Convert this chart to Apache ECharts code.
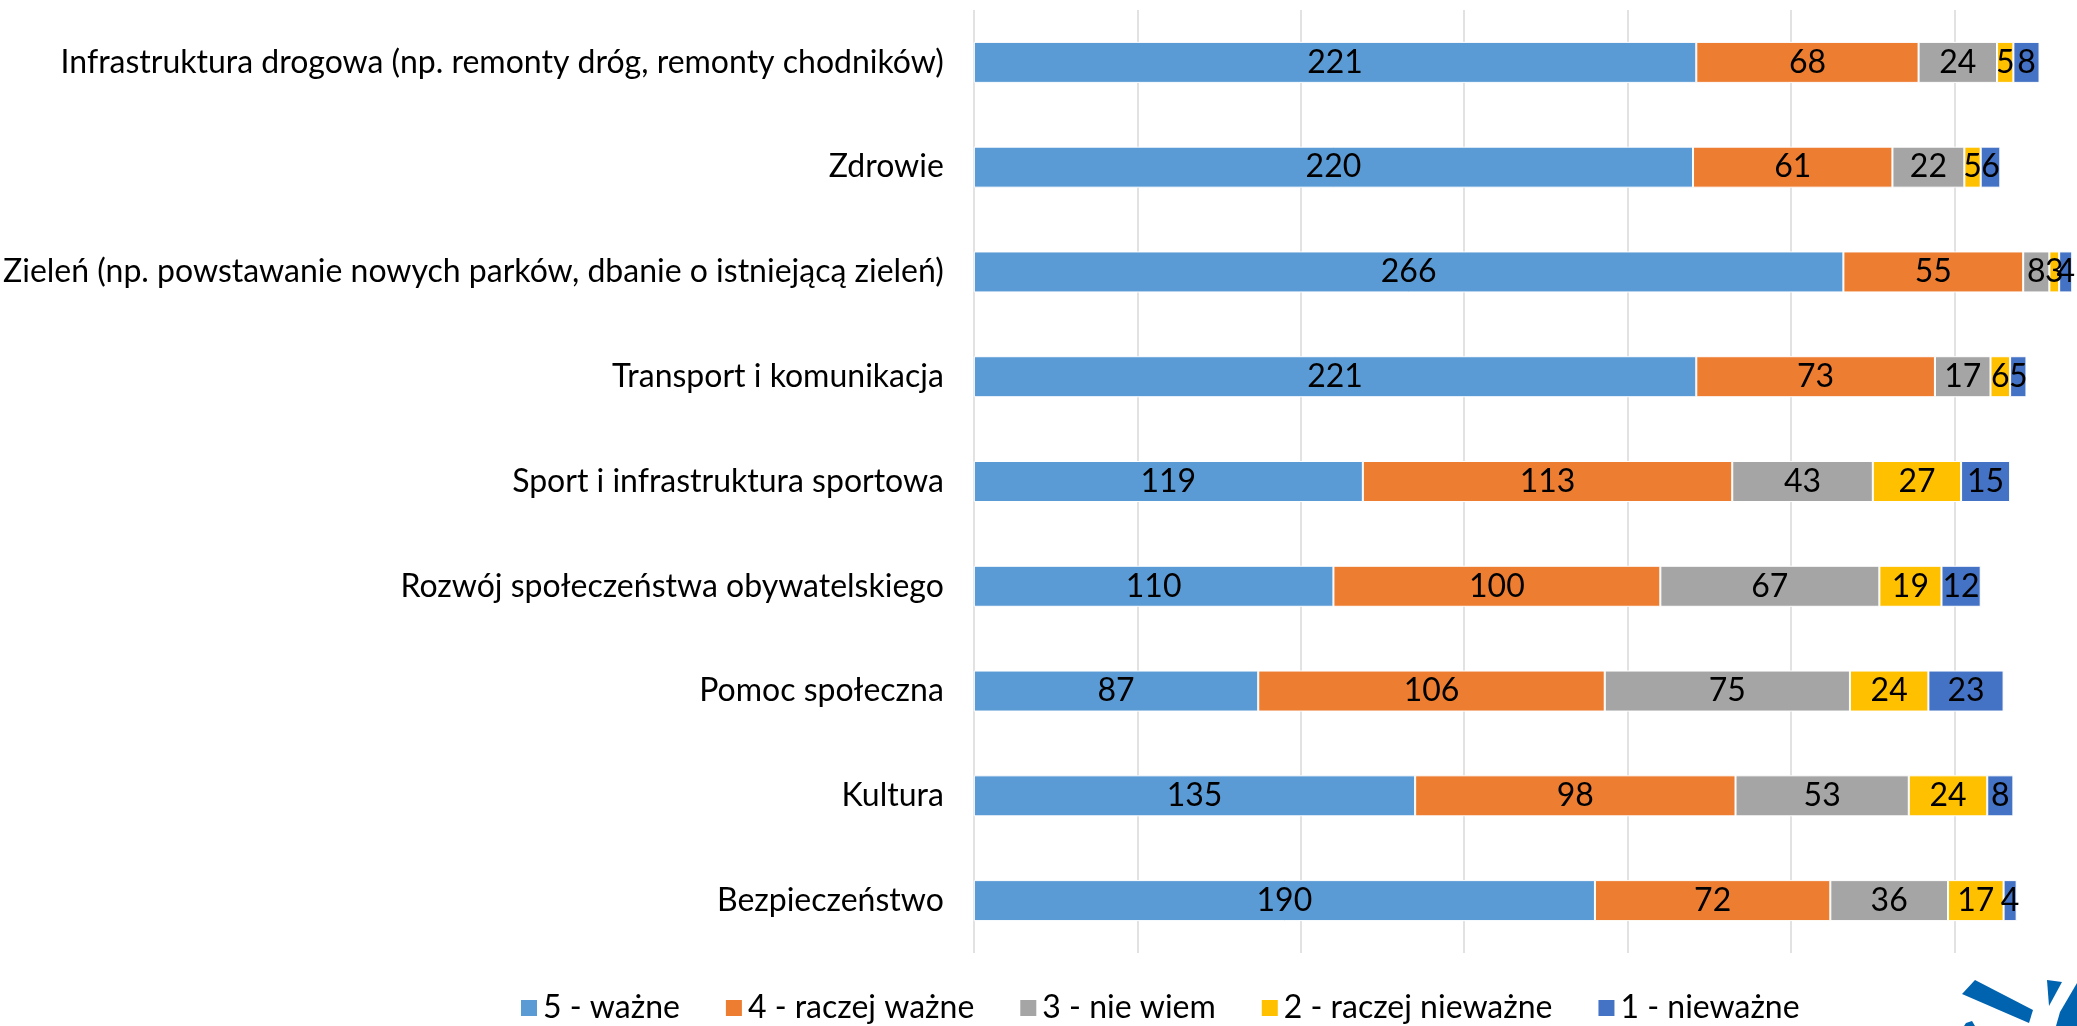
<!DOCTYPE html>
<html lang="pl">
  <head>
    <meta charset="UTF-8" />
    <title>Priorytety</title>
    <script src="https://cdn.jsdelivr.net/npm/echarts@6/dist/echarts.min.js"></script>
    <style>
      html, body { margin: 0; padding: 0; background: #fff; overflow: hidden; }
      /* wykres jest przycięty z prawej strony, tak jak w oryginale */
      #chart { width: 2118px; height: 1026px; }
    </style>
  </head>
  <body>
    <div id="chart"></div>
    <script>
      // kategorie (od góry)
      var categories = [
        "Infrastruktura drogowa (np. remonty dróg, remonty chodników)",
        "Zdrowie",
        "Zieleń (np. powstawanie nowych parków, dbanie o istniejącą zieleń)",
        "Transport i komunikacja",
        "Sport i infrastruktura sportowa",
        "Rozwój społeczeństwa obywatelskiego",
        "Pomoc społeczna",
        "Kultura",
        "Bezpieczeństwo"
      ];
      var seriesNames = ["5 - ważne", "4 - raczej ważne", "3 - nie wiem", "2 - raczej nieważne", "1 - nieważne"];
      var v5 = [221, 220, 266, 221, 119, 110, 87, 135, 190];
      var v4 = [68, 61, 55, 73, 113, 100, 106, 98, 72];
      var v3 = [24, 22, 8, 17, 43, 67, 75, 53, 36];
      var v2 = [5, 5, 3, 6, 27, 19, 24, 24, 17];
      var v1 = [8, 6, 4, 5, 15, 12, 23, 8, 4];
      var colors = ["#5b9bd5", "#ed7d31", "#a5a5a5", "#ffc000", "#4472c4"];

      var font = "Lato, 'Open Sans', sans-serif";
      var allValues = [v5, v4, v3, v2, v1];

      var series = allValues.map(function (vals, i) {
        return {
          name: seriesNames[i],
          type: "bar",
          stack: "total",
          barWidth: 41,
          itemStyle: { color: colors[i], borderColor: "#fff", borderWidth: 1 },
          label: {
            show: true,
            position: "inside",
            color: "#000",
            fontFamily: font,
            fontSize: 32
          },
          data: vals
        };
      });

      var myChart = echarts.init(document.getElementById("chart"));
      var option = {
        animation: false,
        color: colors,
        grid: { left: 973, right: 0, top: 10, bottom: 73 },
        legend: {
          data: seriesNames,
          left: 519,
          top: 992,
          padding: 0,
          itemWidth: 18,
          itemHeight: 18,
          itemGap: 44,
          icon: "rect",
          textStyle: { fontFamily: font, fontSize: 32, color: "#000" }
        },
        xAxis: {
          type: "value",
          min: 0,
          max: 350,
          interval: 50,
          axisLabel: { show: false },
          axisLine: { show: false },
          axisTick: { show: false },
          splitLine: { lineStyle: { color: "#d9d9d9", width: 1.5 } }
        },
        yAxis: {
          type: "category",
          inverse: true,
          data: categories,
          axisLine: { show: false },
          axisTick: { show: false },
          axisLabel: { margin: 30, color: "#000", fontFamily: font, fontSize: 32 }
        },
        graphic: [
          // fragment logo w prawym dolnym rogu
          {
            type: "polygon",
            shape: { points: [[1975, 980], [2033, 1010], [2029, 1023], [1962, 994]] },
            style: { fill: "#0063b0" }
          },
          {
            type: "polygon",
            shape: { points: [[2047, 980], [2062, 982], [2049, 1006]] },
            style: { fill: "#0063b0" }
          },
          {
            type: "polygon",
            shape: { points: [[2077, 983], [2077, 1026], [2056, 1026], [2060, 1012]] },
            style: { fill: "#0063b0" }
          },
          {
            type: "polygon",
            shape: { points: [[1966, 1023], [1972, 1021], [1975, 1026], [1964, 1026]] },
            style: { fill: "#0063b0" }
          }
        ],
        series: series
      };
      myChart.setOption(option);
    </script>
  </body>
</html>
